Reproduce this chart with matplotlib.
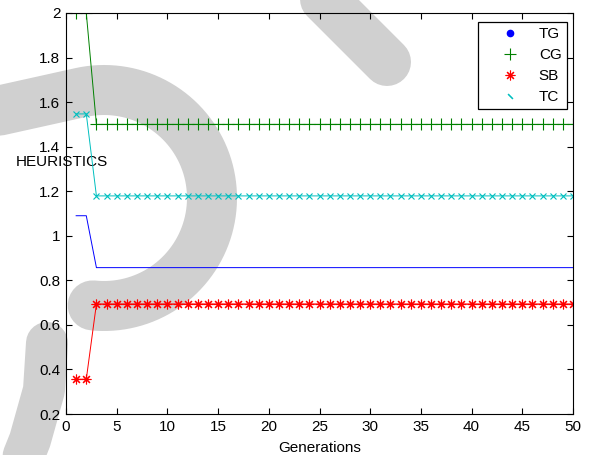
import numpy as np
import matplotlib
matplotlib.use("Agg")
import matplotlib.pyplot as plt
from matplotlib.lines import Line2D

plt.rcParams["font.family"] = ["Liberation Sans", "DejaVu Sans"]

# data
generations = list(range(1, 51))
tg = [1.09, 1.09,
      0.857, 0.857, 0.857, 0.857, 0.857, 0.857, 0.857, 0.857, 0.857, 0.857, 0.857, 0.857,
      0.857, 0.857, 0.857, 0.857, 0.857, 0.857, 0.857, 0.857, 0.857, 0.857, 0.857, 0.857,
      0.857, 0.857, 0.857, 0.857, 0.857, 0.857, 0.857, 0.857, 0.857, 0.857, 0.857, 0.857,
      0.857, 0.857, 0.857, 0.857, 0.857, 0.857, 0.857, 0.857, 0.857, 0.857, 0.857, 0.857]
cg = [2.0, 2.0,
      1.5, 1.5, 1.5, 1.5, 1.5, 1.5, 1.5, 1.5, 1.5, 1.5, 1.5, 1.5,
      1.5, 1.5, 1.5, 1.5, 1.5, 1.5, 1.5, 1.5, 1.5, 1.5, 1.5, 1.5,
      1.5, 1.5, 1.5, 1.5, 1.5, 1.5, 1.5, 1.5, 1.5, 1.5, 1.5, 1.5,
      1.5, 1.5, 1.5, 1.5, 1.5, 1.5, 1.5, 1.5, 1.5, 1.5, 1.5, 1.5]
sb = [0.356, 0.356,
      0.694, 0.694, 0.694, 0.694, 0.694, 0.694, 0.694, 0.694, 0.694, 0.694, 0.694, 0.694,
      0.694, 0.694, 0.694, 0.694, 0.694, 0.694, 0.694, 0.694, 0.694, 0.694, 0.694, 0.694,
      0.694, 0.694, 0.694, 0.694, 0.694, 0.694, 0.694, 0.694, 0.694, 0.694, 0.694, 0.694,
      0.694, 0.694, 0.694, 0.694, 0.694, 0.694, 0.694, 0.694, 0.694, 0.694, 0.694, 0.694]
tc = [1.547, 1.547,
      1.179, 1.179, 1.179, 1.179, 1.179, 1.179, 1.179, 1.179, 1.179, 1.179, 1.179, 1.179,
      1.179, 1.179, 1.179, 1.179, 1.179, 1.179, 1.179, 1.179, 1.179, 1.179, 1.179, 1.179,
      1.179, 1.179, 1.179, 1.179, 1.179, 1.179, 1.179, 1.179, 1.179, 1.179, 1.179, 1.179,
      1.179, 1.179, 1.179, 1.179, 1.179, 1.179, 1.179, 1.179, 1.179, 1.179, 1.179, 1.179]
labels = ["TG", "CG", "SB", "TC"]

W, H = 589, 455
fig = plt.figure(figsize=(W / 100, H / 100), dpi=100)
ax = fig.add_axes([66 / W, 1 - 414 / H, 507 / W, 401 / H])
ax.patch.set_alpha(0)


def px(pts):
    # pixel coords (top-left origin) -> figure fraction
    pts = np.asarray(pts, dtype=float)
    return pts[:, 0] / W, 1 - pts[:, 1] / H


def stroke(pts, width_px):
    x, y = px(pts)
    fig.add_artist(Line2D(x, y, transform=fig.transFigure, color="#d0d0d0",
                          linewidth=width_px * 0.72, solid_capstyle="round",
                          solid_joinstyle="round", zorder=-1))


# grey watermark behind the plot
cx, cy, r = 104, 198, 108
ang = np.radians(np.linspace(102.5, -96, 80))
arc = np.column_stack([cx + r * np.cos(ang), cy - r * np.sin(ang)])
slope = np.tan(np.radians(12.5))
lead = [[-40, arc[0, 1] + (arc[0, 0] + 40) * slope]]
stroke(np.vstack([lead, arc]), 50)
stroke([[280, -45], [387, 62]], 48)
stroke([[47, 343], [44, 390], [30, 440], [12, 485]], 42)

ax.plot(generations, tg, color="b", linewidth=0.7)
ax.plot(generations, cg, color=(0, 0.5, 0), marker="+", markersize=8,
        markeredgewidth=0.8, linewidth=0.7)
ax.plot(generations, sb, color="r", marker=(8, 2, 0), markersize=7,
        markeredgewidth=0.8, linewidth=0.7)
ax.plot(generations, tc, color=(0, 0.75, 0.75), marker="x", markersize=4,
        markeredgewidth=0.8, linewidth=0.7)

ax.set_xlim(0, 50)
ax.set_ylim(0.2, 2)
ax.set_xticks(np.arange(0, 51, 5))
ax.set_yticks(np.arange(0.2, 2.01, 0.2))
ax.set_yticklabels(["0.2", "0.4", "0.6", "0.8", "1", "1.2", "1.4", "1.6", "1.8", "2"])
ax.tick_params(direction="in", top=True, right=True, length=4, width=0.8,
               labelsize=11, pad=4)
for s in ax.spines.values():
    s.set_linewidth(0.8)

ax.set_xlabel("Generations", fontsize=11, labelpad=5)
ax.set_ylabel("HEURISTICS", fontsize=11, rotation=0, ha="center", va="center")
ax.yaxis.set_label_coords(-0.008, 0.628)

handles = [
    Line2D([], [], ls="none", marker=".", color="b", markersize=9),
    Line2D([], [], ls="none", marker="+", color=(0, 0.5, 0), markersize=8, markeredgewidth=0.8),
    Line2D([], [], ls="none", marker=(8, 2, 0), color="r", markersize=7, markeredgewidth=0.8),
    Line2D([], [], ls="none", marker=(2, 2, 45), color=(0, 0.75, 0.75), markersize=5,
           markeredgewidth=0.8),
]
leg = ax.legend(handles, labels, loc="upper right", bbox_to_anchor=(0.988, 0.9776),
                borderaxespad=0, fontsize=11, fancybox=False, framealpha=1,
                edgecolor="black", handlelength=3.4, handletextpad=0.2,
                borderpad=0.35, labelspacing=0.45)
leg.get_frame().set_linewidth(0.9)

fig.savefig("out.png", dpi=100)
